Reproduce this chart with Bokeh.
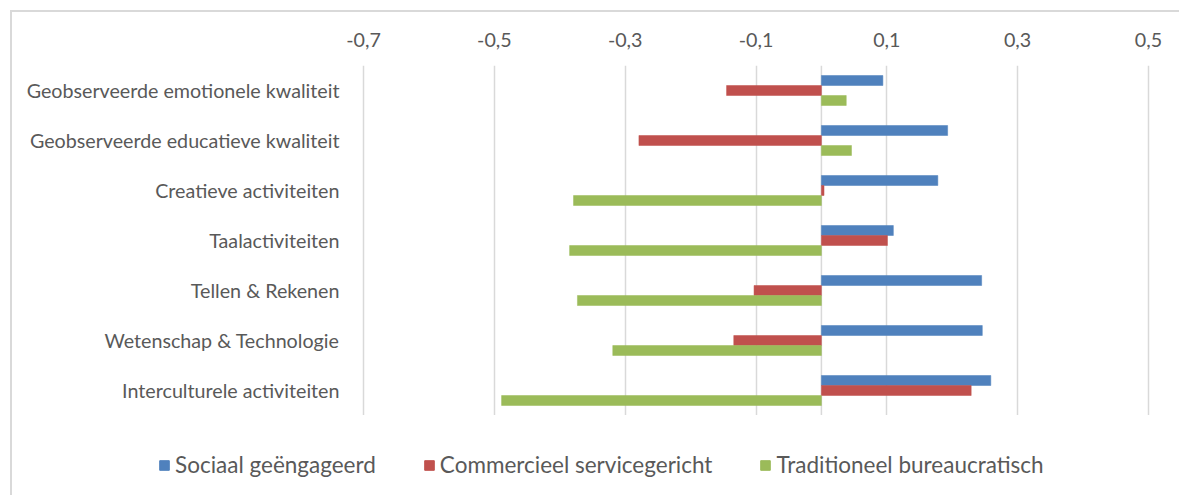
from bokeh.plotting import figure
from bokeh.layouts import column
from bokeh.models import (ColumnDataSource, FixedTicker, CustomJSTickFormatter, Span,
                          Legend, LegendItem)
from bokeh.transform import dodge
from bokeh.embed import file_html
from bokeh.resources import INLINE

categories = [
    "Geobserveerde emotionele kwaliteit",
    "Geobserveerde educatieve kwaliteit",
    "Creatieve activiteiten",
    "Taalactiviteiten",
    "Tellen & Rekenen",
    "Wetenschap & Technologie",
    "Interculturele activiteiten",
]
series_names = ["Sociaal geëngageerd", "Commercieel servicegericht", "Traditioneel bureaucratisch"]
sociaal = [0.094, 0.193, 0.178, 0.110, 0.245, 0.246, 0.259]
commercieel = [-0.145, -0.279, 0.004, 0.101, -0.103, -0.134, 0.229]
traditioneel = [0.038, 0.046, -0.379, -0.385, -0.373, -0.319, -0.489]
x_ticks = [-0.7, -0.5, -0.3, -0.1, 0.1, 0.3, 0.5]

colors = ["#4F81BD", "#C0504D", "#9BBB59"]
FONT = "Lato"
TXT = "#595959"
FS = "19.7px"
GRID = "#d9d9d9"

source = ColumnDataSource(dict(cat=categories, s1=sociaal, s2=commercieel, s3=traditioneel))

W = 1179
p = figure(width=W, height=415, y_range=list(reversed(categories)), x_range=(-0.72, 0.52),
           x_axis_location="above", output_backend="svg", toolbar_location=None,
           min_border_left=350, min_border_right=18, min_border_top=65, min_border_bottom=0)
p.outline_line_color = None
p.frame_align = False
p.border_fill_alpha = 0

p.add_layout(Span(location=0, dimension="height", line_color=GRID, line_width=1.5, level="underlay"))

rs = []
for key, off, col in zip(["s1", "s2", "s3"], [0.2, 0.0, -0.2], colors):
    r = p.hbar(y=dodge("cat", off, range=p.y_range), left=0, right=key, height=0.2,
               source=source, fill_color=col, line_color=col, line_width=0.5)
    rs.append(r)

p.xaxis.ticker = FixedTicker(ticks=x_ticks)
p.xaxis.formatter = CustomJSTickFormatter(code="return tick.toFixed(1).replace('.', ',');")
p.xaxis.axis_line_color = None
p.xaxis.major_tick_line_color = None
p.xaxis.minor_tick_line_color = None
p.xaxis.major_label_standoff = 13
p.xgrid.ticker = FixedTicker(ticks=x_ticks)
p.xgrid.grid_line_color = GRID
p.xgrid.grid_line_width = 1.5
p.ygrid.grid_line_color = None

p.yaxis.axis_line_color = None
p.yaxis.major_tick_line_color = None
p.yaxis.minor_tick_line_color = None
p.yaxis.major_label_standoff = 5

for ax in [p.xaxis[0], p.yaxis[0]]:
    ax.major_label_text_font = FONT
    ax.major_label_text_font_size = FS
    ax.major_label_text_color = TXT

# legend strip below the chart
lg = figure(width=W, height=80, output_backend="svg", toolbar_location=None,
            x_axis_location=None, y_axis_location=None,
            min_border_left=0, min_border_right=0, min_border_top=0, min_border_bottom=0,
            x_range=(0, 1), y_range=(0, 1))
lg.frame_align = False
lg.grid.visible = False
lg.outline_line_color = None
lg.background_fill_alpha = 0
lg.border_fill_alpha = 0
dummy = ColumnDataSource(dict(y=[float("nan")], r=[float("nan")]))
lrs = [lg.hbar(y="y", left=0, right="r", height=0.2, source=dummy, fill_color=c, line_color=c)
       for c in colors]

legend = Legend(items=[LegendItem(label=n, renderers=[r]) for n, r in zip(series_names, lrs)],
                orientation="horizontal", location=(158, 17),
                label_text_font=FONT, label_text_font_size="22.5px", label_text_color=TXT,
                glyph_width=12, glyph_height=12, label_standoff=5, spacing=47,
                padding=0, margin=0, border_line_color=None, background_fill_alpha=0)
lg.add_layout(legend, "center")

layout = column(p, lg, spacing=0)
layout.styles = {
    "background": ("linear-gradient(#d9d9d9, #d9d9d9) 10px 10px / 2px 100% no-repeat, "
                   "linear-gradient(#d9d9d9, #d9d9d9) 10px 10px / 100% 2px no-repeat, #ffffff"),
}
open("out.html", "w").write(file_html(layout, INLINE))
